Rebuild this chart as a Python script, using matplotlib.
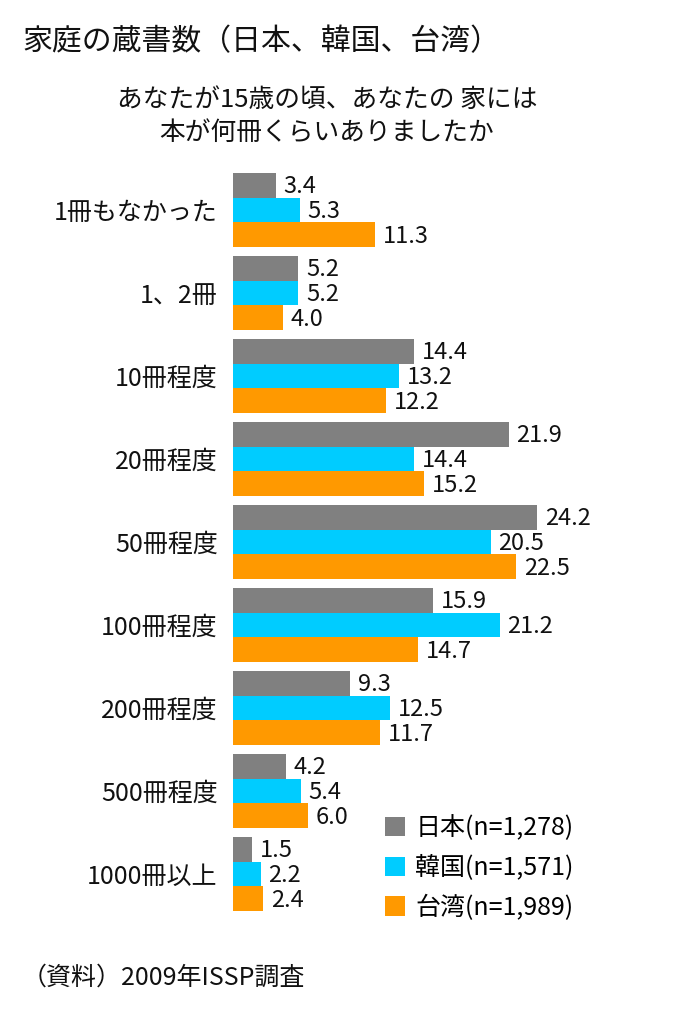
import matplotlib
matplotlib.use("Agg")
import matplotlib.pyplot as plt
from matplotlib.patches import Patch
import numpy as np

plt.rcParams['font.family'] = ['Noto Sans CJK JP', 'DejaVu Sans']

categories = ["1冊もなかった", "1、2冊", "10冊程度", "20冊程度", "50冊程度",
              "100冊程度", "200冊程度", "500冊程度", "1000冊以上"]
japan = [3.4, 5.2, 14.4, 21.9, 24.2, 15.9, 9.3, 4.2, 1.5]
korea = [5.3, 5.2, 13.2, 14.4, 20.5, 21.2, 12.5, 5.4, 2.2]
taiwan = [11.3, 4.0, 12.2, 15.2, 22.5, 14.7, 11.7, 6.0, 2.4]
series_names = ["日本(n=1,278)", "韓国(n=1,571)", "台湾(n=1,989)"]
colors = ["#808080", "#00CCFF", "#FF9900"]

W, H = 690, 1014
fig = plt.figure(figsize=(W / 100, H / 100), dpi=100)

# axes placed in pixel terms: bars start at x=233, groups 83 px apart
ax_left, ax_right = 233, 690
ax_top, ax_bottom = 160, 925
ax = fig.add_axes([ax_left / W, 1 - ax_bottom / H,
                   (ax_right - ax_left) / W, (ax_bottom - ax_top) / H])

step = 83.0
first_center = 210.0
px_per_unit = 12.58

y = np.arange(len(categories))
bh = 0.298
for k, (vals, c) in enumerate(zip([japan, korea, taiwan], colors)):
    pos = y + (k - 1) * bh
    ax.barh(pos, vals, height=bh, color=c, edgecolor='none')
    for p, v in zip(pos, vals):
        ax.text(v + 0.6, p + 0.02, f"{v:.1f}", va='center', ha='left',
                fontsize=17, color='#111111')

ax.set_xlim(0, (ax_right - ax_left) / px_per_unit)
ax.set_ylim((ax_bottom - first_center) / step, (ax_top - first_center) / step)
ax.set_yticks(y)
ax.set_yticklabels(categories, fontsize=18, color='#111111')
ax.tick_params(axis='y', length=0, pad=11)
ax.set_xticks([])
for s in ax.spines.values():
    s.set_visible(False)

handles = [Patch(facecolor=c, edgecolor='none') for c in colors]
fig.legend(handles, series_names, loc='upper left',
           bbox_to_anchor=(385 / W, 1 - 815 / H), frameon=False,
           fontsize=18, handlelength=0.8, handleheight=0.8,
           handletextpad=0.42, labelspacing=0.55, borderpad=0,
           borderaxespad=0)

fig.text(22 / W, 1 - 42 / H, "家庭の蔵書数（日本、韓国、台湾）", fontsize=21.5,
         va='center', ha='left', color='#111111')
fig.text(327 / W, 1 - 100 / H, "あなたが15歳の頃、あなたの 家には", fontsize=18.5,
         va='center', ha='center', color='#111111')
fig.text(327 / W, 1 - 133 / H, "本が何冊くらいありましたか", fontsize=18.5,
         va='center', ha='center', color='#111111')
fig.text(22 / W, 1 - 978 / H, "（資料）2009年ISSP調査", fontsize=18,
         va='center', ha='left', color='#111111')

fig.savefig("out.png", dpi=100)
